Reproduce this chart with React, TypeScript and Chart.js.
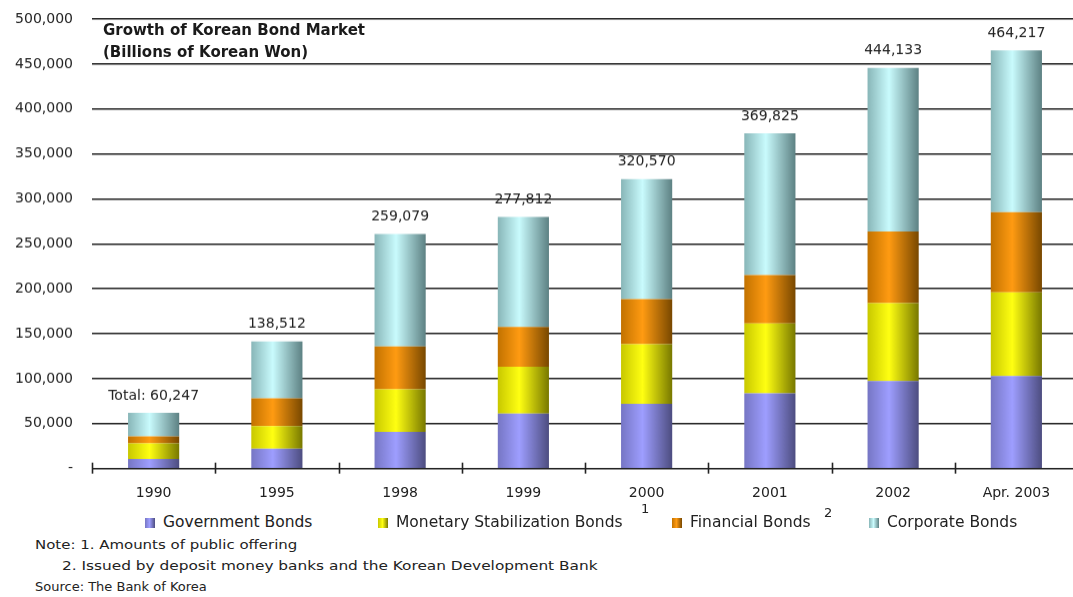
import React, { useEffect, useRef } from 'react';
import { Chart, registerables } from 'chart.js';

Chart.register(...registerables);

const categories = ['1990', '1995', '1998', '1999', '2000', '2001', '2002', 'Apr. 2003'];
const governmentBonds = [10900, 22100, 41000, 61100, 72200, 83800, 97500, 103100];
const monetaryStabilizationBonds = [17200, 25300, 47300, 52100, 66300, 77600, 86500, 92900];
const financialBonds = [7800, 30900, 47500, 44500, 50100, 54000, 79700, 89200];
const corporateBonds = [26200, 63100, 125200, 122300, 133400, 157600, 181900, 180100];
const totals = [60247, 138512, 259079, 277812, 320570, 369825, 444133, 464217];
const seriesNames = ['Government Bonds', 'Monetary Stabilization Bonds', 'Financial Bonds', 'Corporate Bonds'];

const FONT = '"DejaVu Sans", Arial, sans-serif';
const BAR_FRACTION = 0.415;

const palettes = [
  { left: '#7676c4', light: '#9e9eff', right: '#4d4d80' },
  { left: '#c8c800', light: '#ffff12', right: '#787800' },
  { left: '#c27200', light: '#ff9b12', right: '#784800' },
  { left: '#88b6b8', light: '#c9fbfd', right: '#5d8183' },
];

const legendLefts = [145, 378, 672, 869];

function cylinder(p: { left: string; light: string; right: string }) {
  return (ctx: any) => {
    const chart = ctx.chart;
    const xs = chart.scales && chart.scales.x;
    if (!xs || ctx.type !== 'data' || !chart.chartArea) return p.light;
    const cx = xs.getPixelForValue(ctx.dataIndex);
    const half = ((xs.width / categories.length) * BAR_FRACTION) / 2;
    const g = chart.ctx.createLinearGradient(cx - half, 0, cx + half, 0);
    g.addColorStop(0, p.left);
    g.addColorStop(0.42, p.light);
    g.addColorStop(1, p.right);
    return g;
  };
}

const fmt = (v: number) => v.toLocaleString('en-US');

const totalsPlugin = {
  id: 'totalsLabels',
  afterDatasetsDraw(chart: any) {
    const meta = chart.getDatasetMeta(chart.data.datasets.length - 1);
    const ctx = chart.ctx;
    ctx.save();
    ctx.font = `14px ${FONT}`;
    ctx.fillStyle = '#222';
    ctx.textAlign = 'center';
    ctx.textBaseline = 'middle';
    meta.data.forEach((bar: any, i: number) => {
      const text = i === 0 ? `Total: ${fmt(totals[i])}` : fmt(totals[i]);
      ctx.fillText(text, bar.x, bar.y - 17);
    });
    ctx.restore();
  },
};

const axisTicksPlugin = {
  id: 'axisTicks',
  afterDraw(chart: any) {
    const xs = chart.scales.x;
    const y = chart.chartArea.bottom;
    const n = categories.length;
    const step = xs.width / n;
    const ctx = chart.ctx;
    ctx.save();
    ctx.strokeStyle = '#222';
    ctx.lineWidth = 1.6;
    for (let i = 0; i <= n; i++) {
      const x = Math.round(xs.left + i * step) + 0.5;
      ctx.beginPath();
      ctx.moveTo(x, y - 6);
      ctx.lineTo(x, y + 5);
      ctx.stroke();
    }
    ctx.restore();
  },
};

export default function App() {
  const canvasRef = useRef<HTMLCanvasElement | null>(null);

  useEffect(() => {
    if (!canvasRef.current) return;
    const series = [governmentBonds, monetaryStabilizationBonds, financialBonds, corporateBonds];
    const chart = new Chart(canvasRef.current, {
      type: 'bar',
      data: {
        labels: categories,
        datasets: series.map((d, i) => ({
          label: seriesNames[i],
          data: d,
          backgroundColor: cylinder(palettes[i]),
          borderWidth: 0,
          barPercentage: BAR_FRACTION,
          categoryPercentage: 1,
        })),
      },
      options: {
        animation: false,
        responsive: true,
        maintainAspectRatio: false,
        layout: { padding: { left: 0, right: 7, top: 19, bottom: 0 } },
        plugins: {
          legend: { display: false },
          tooltip: { enabled: false },
          title: { display: false },
        },
        scales: {
          x: {
            stacked: true,
            grid: { display: false },
            border: { display: false },
            ticks: {
              color: '#222',
              font: { family: FONT, size: 14 },
              padding: 8,
              maxRotation: 0,
              autoSkip: false,
            },
          },
          y: {
            stacked: true,
            min: 0,
            max: 500000,
            afterFit: (s: any) => {
              s.width = 92;
            },
            border: { display: false },
            grid: {
              color: '#1e1e1e',
              lineWidth: 1.6,
              drawTicks: true,
              tickLength: 16,
              tickColor: 'rgba(0,0,0,0)',
            },
            ticks: {
              stepSize: 50000,
              color: '#222',
              font: { family: FONT, size: 14 },
              padding: 3,
              callback: (v: any) => (Number(v) === 0 ? '-' : fmt(Number(v))),
            },
          },
        },
      },
      plugins: [totalsPlugin, axisTicksPlugin],
    });
    return () => chart.destroy();
  }, []);

  const textBase: React.CSSProperties = {
    position: 'absolute',
    fontFamily: FONT,
    color: '#222',
    whiteSpace: 'nowrap',
    lineHeight: 1,
    transformOrigin: 'left center',
  };

  return (
    <div
      style={{
        position: 'absolute',
        left: 0,
        top: 0,
        width: 1073,
        height: 597,
        overflow: 'hidden',
        background: '#fff',
      }}
    >
      <div style={{ position: 'absolute', left: 0, top: 0, width: 1085, height: 508.5 }}>
        <canvas ref={canvasRef} />
      </div>

      <div style={{ ...textBase, left: 103, top: 23, fontSize: 15, fontWeight: 'bold', color: '#1a1a1a' }}>
        Growth of Korean Bond Market
      </div>
      <div style={{ ...textBase, left: 103, top: 45, fontSize: 15, fontWeight: 'bold', color: '#1a1a1a' }}>
        (Billions of Korean Won)
      </div>

      {seriesNames.map((name, i) => (
        <div
          key={name}
          style={{
            position: 'absolute',
            left: legendLefts[i],
            top: 514,
            display: 'flex',
            alignItems: 'center',
            fontFamily: FONT,
            fontSize: 15.5,
            color: '#222',
            whiteSpace: 'nowrap',
            lineHeight: '17px',
          }}
        >
          <span
            style={{
              display: 'inline-block',
              width: 10,
              height: 10,
              marginRight: 8,
              background: `linear-gradient(to right, ${palettes[i].left}, ${palettes[i].light} 45%, ${palettes[i].right})`,
            }}
          />
          <span>{name}</span>
        </div>
      ))}
      <div style={{ ...textBase, left: 641, top: 502, fontSize: 13 }}>1</div>
      <div style={{ ...textBase, left: 824, top: 506, fontSize: 13 }}>2</div>

      <div style={{ ...textBase, left: 35, top: 538, fontSize: 13, transform: 'scaleX(1.15)' }}>
        Note: 1. Amounts of public offering
      </div>
      <div style={{ ...textBase, left: 62, top: 559, fontSize: 13, transform: 'scaleX(1.18)' }}>
        2. Issued by deposit money banks and the Korean Development Bank
      </div>
      <div style={{ ...textBase, left: 35, top: 580, fontSize: 13 }}>Source: The Bank of Korea</div>
    </div>
  );
}
